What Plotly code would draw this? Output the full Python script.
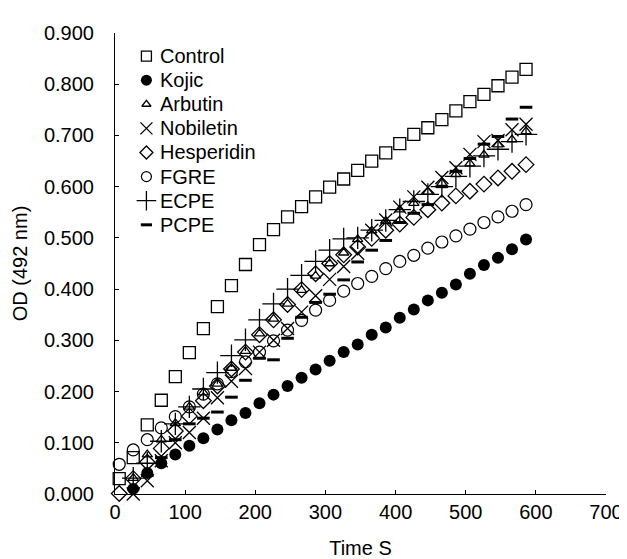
import plotly.graph_objects as go

time_s = [6, 26, 46, 66, 86, 106, 126, 146, 166, 186, 206, 226, 246, 266, 286,
          306, 326, 346, 366, 386, 406, 426, 446, 466, 486, 506, 526, 546, 566, 586]

control = [0.030, 0.071, 0.135, 0.183, 0.229, 0.276, 0.323, 0.366, 0.407, 0.448,
           0.487, 0.516, 0.541, 0.561, 0.580, 0.599, 0.615, 0.632, 0.650, 0.666,
           0.684, 0.702, 0.715, 0.731, 0.748, 0.766, 0.780, 0.797, 0.814, 0.829]
kojic = [None, 0.010, 0.041, 0.060, 0.077, 0.094, 0.109, 0.126, 0.144, 0.158,
         0.177, 0.194, 0.211, 0.227, 0.243, 0.260, 0.277, 0.292, 0.311, 0.325,
         0.344, 0.360, 0.378, 0.393, 0.409, 0.430, 0.447, 0.461, 0.478, 0.497]
arbutin = [None, 0.031, 0.077, 0.106, 0.138, 0.170, 0.198, 0.215, 0.246, 0.279,
           0.313, 0.342, 0.371, 0.398, 0.426, 0.450, 0.471, 0.497, 0.514, 0.533,
           0.555, 0.568, 0.590, 0.607, 0.624, 0.645, 0.662, 0.682, 0.692, 0.708]
nobiletin = [None, 0.000, 0.026, 0.065, 0.100, 0.120, 0.148, 0.188, 0.220, 0.245,
             0.277, 0.300, 0.323, 0.355, 0.387, 0.419, 0.444, 0.470, 0.515, 0.535,
             0.560, 0.580, 0.599, 0.618, 0.637, 0.663, 0.688, 0.690, 0.711, 0.722]
hesperidin = [0.001, 0.030, 0.062, 0.089, 0.123, 0.152, 0.182, 0.211, 0.244, 0.277,
              0.311, 0.340, 0.370, 0.399, 0.430, 0.450, 0.467, 0.482, 0.499, 0.515,
              0.527, 0.540, 0.555, 0.568, 0.582, 0.591, 0.605, 0.617, 0.630, 0.643]
fgre = [0.058, 0.086, 0.106, 0.129, 0.151, 0.170, 0.195, 0.215, 0.239, 0.258,
        0.277, 0.299, 0.320, 0.339, 0.359, 0.378, 0.396, 0.411, 0.425, 0.440,
        0.454, 0.466, 0.480, 0.492, 0.504, 0.517, 0.530, 0.541, 0.552, 0.565]
ecpe = [None, 0.031, 0.060, 0.103, 0.137, 0.170, 0.205, 0.237, 0.270, 0.301,
        0.340, 0.371, 0.400, 0.427, 0.454, 0.476, 0.498, 0.500, 0.515, 0.534,
        0.555, 0.571, 0.585, 0.600, 0.620, 0.640, 0.660, 0.673, 0.688, 0.702]
pcpe = [None, 0.010, 0.036, 0.071, 0.106, 0.137, 0.148, 0.160, 0.189, 0.222,
        0.265, 0.262, 0.304, 0.345, 0.374, 0.390, 0.418, 0.453, 0.476, 0.495,
        0.530, 0.548, 0.565, 0.600, 0.630, 0.655, 0.683, 0.698, 0.732, 0.755]

x_ticks = [0, 100, 200, 300, 400, 500, 600, 700]
y_ticks = [0.0, 0.1, 0.2, 0.3, 0.4, 0.5, 0.6, 0.7, 0.8, 0.9]

FONT = "Liberation Sans, Arial, Helvetica, sans-serif"

# name, values, symbol, size, line width, legend marker size
series = [
    ("Control", control, "square-open", 12, 1.3, 10),
    ("Kojic", kojic, "circle", 12, 0, 11),
    ("Arbutin", arbutin, "triangle-up-open", 9, 1.3, 8),
    ("Nobiletin", nobiletin, "x-thin-open", 13, 1.3, 12),
    ("Hesperidin", hesperidin, "diamond-open", 12, 1.3, 10),
    ("FGRE", fgre, "circle-open", 12, 1.2, 10),
    ("ECPE", ecpe, "cross-thin-open", 16, 1.3, 14),
    ("PCPE", pcpe, "line-ew-open", 9, 3, 8),
]

fig = go.Figure()
for name, vals, sym, size, lw, _ in series:
    fig.add_trace(go.Scatter(
        x=time_s, y=vals, name=name, mode="markers",
        marker=dict(symbol=sym, size=size, color="black",
                    line=dict(color="black", width=lw)),
        cliponaxis=False, showlegend=False,
    ))

# legend drawn in an overlay frame (fractions of the plot area)
LEG_MARK_X = 0.064
LEG_TEXT_X = 0.088
LEG_TOP = 0.950
LEG_STEP = 0.0523
for i, (name, vals, sym, size, lw, lsize) in enumerate(series):
    ly = LEG_TOP - i * LEG_STEP
    fig.add_trace(go.Scatter(
        x=[LEG_MARK_X], y=[ly], xaxis="x2", yaxis="y2", mode="markers",
        marker=dict(symbol=sym, size=lsize, color="black",
                    line=dict(color="black", width=lw)),
        showlegend=False, hoverinfo="skip", cliponaxis=False,
    ))
    fig.add_annotation(x=LEG_TEXT_X, y=ly, xref="x2", yref="y2", text=name,
                       showarrow=False, xanchor="left", yanchor="middle",
                       font=dict(family=FONT, size=20, color="black"))

fig.update_layout(
    width=627, height=559,
    margin=dict(l=104, r=26, t=25, b=64),
    paper_bgcolor="white", plot_bgcolor="white",
    font=dict(family=FONT, size=20, color="black"),
    showlegend=False,
    xaxis=dict(range=[0, 700], tickvals=x_ticks, ticks="inside", ticklen=4,
               showline=True, linecolor="black", linewidth=1, tickcolor="black",
               showgrid=False, zeroline=False,
               title=dict(text="Time S", font=dict(size=20), standoff=18),
               tickfont=dict(size=20)),
    yaxis=dict(range=[0, 0.9], tickvals=y_ticks, tickformat=".3f",
               ticks="inside", ticklen=4,
               showline=True, linecolor="black", linewidth=1, tickcolor="black",
               showgrid=False, zeroline=False, ticklabelstandoff=16,
               title=dict(text="OD (492 nm)", font=dict(size=20), standoff=10),
               tickfont=dict(size=20)),
    xaxis2=dict(range=[0, 1], overlaying="x", visible=False, fixedrange=True),
    yaxis2=dict(range=[0, 1], overlaying="y", visible=False, fixedrange=True),
)

fig.write_html("out.html")
